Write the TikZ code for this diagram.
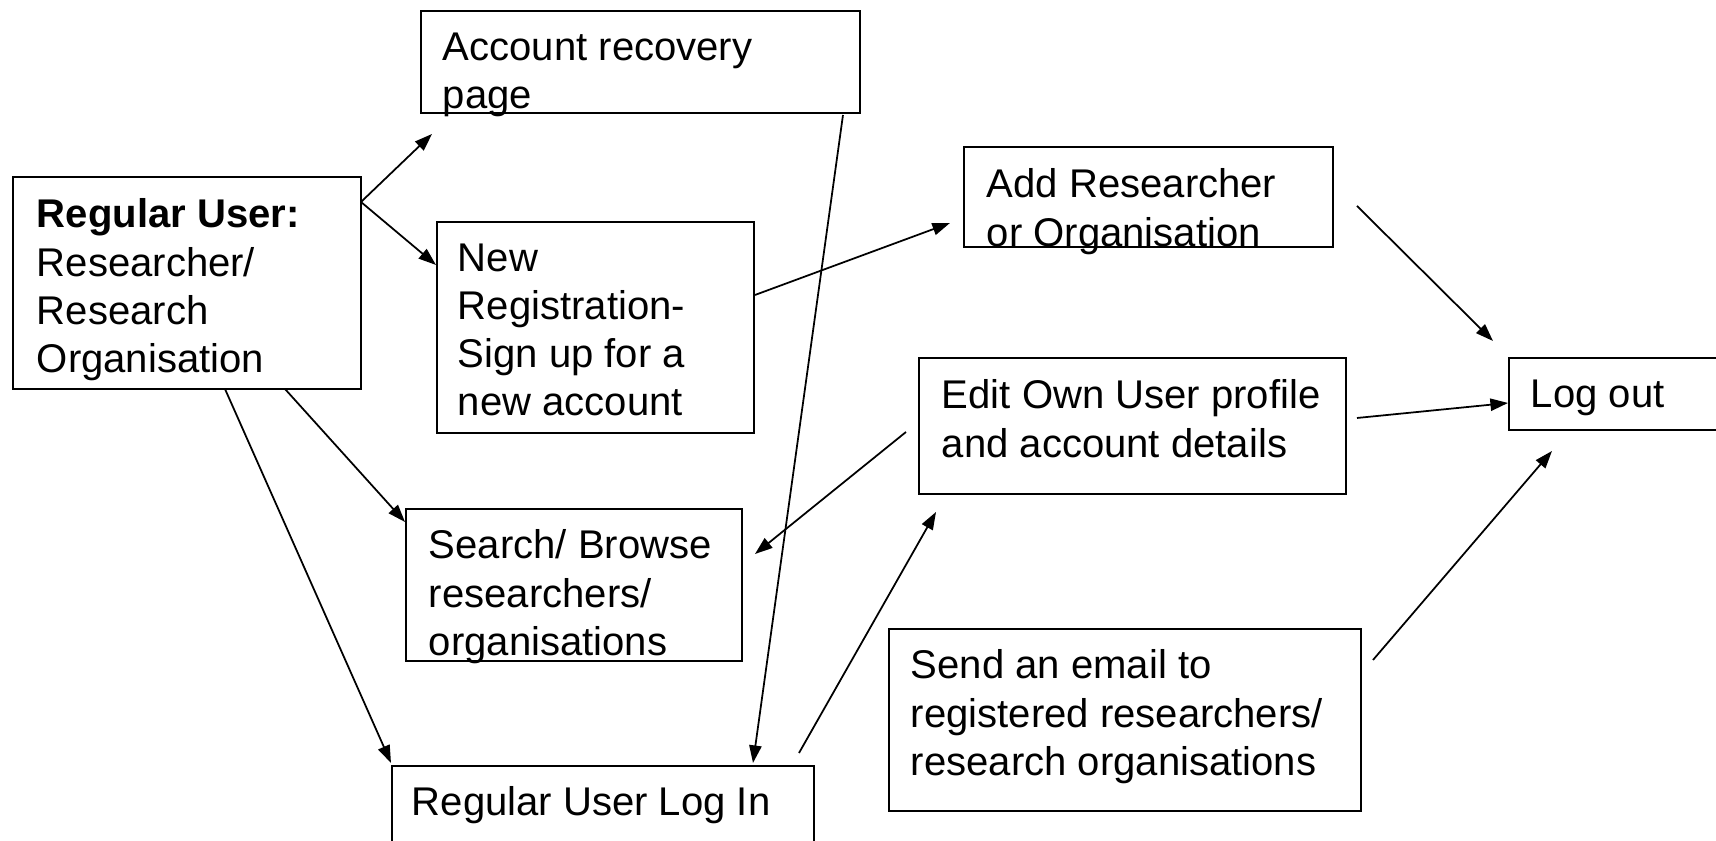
\documentclass[tikz,border=0pt]{standalone}
\usepackage{fontspec}
\setmainfont{Liberation Sans}
\usetikzlibrary{arrows.meta}

\begin{document}
\begin{tikzpicture}[>={Triangle[length=5pt,width=3.5pt]}, line width=0.5pt]
  \tikzstyle{box}=[draw, line width=0.65pt, inner sep=0pt, outer sep=0pt]
  \tikzstyle{txt}=[anchor=north west, align=left, inner sep=0pt,
    font=\fontsize{11.4}{13.7}\selectfont]

  \useasboundingbox (0,0) rectangle (17.16,8.41);

  % Left: the user
  \node[box, minimum width=3.48cm, minimum height=2.12cm] (user) at (1.87, 5.58) {};

  % Middle: pages reached from the user box
  \node[box, minimum width=4.39cm, minimum height=1.02cm] (rec) at (6.405, 7.79) {};
  \node[box, minimum width=3.17cm, minimum height=2.11cm] (reg) at (5.955, 5.135) {};
  \node[box, minimum width=3.36cm, minimum height=1.52cm] (search) at (5.74, 2.56) {};
  \node[box, minimum width=4.22cm, minimum height=1.00cm] (login) at (6.03, 0.25) {};

  % Right: after log in
  \node[box, minimum width=3.69cm, minimum height=1.00cm] (add) at (11.485, 6.44) {};
  \node[box, minimum width=4.27cm, minimum height=1.36cm] (edit) at (11.325, 4.15) {};
  \node[box, minimum width=4.72cm, minimum height=1.82cm] (email) at (11.25, 1.21) {};
  \node[box, minimum width=2.15cm, minimum height=0.72cm] (logout) at (16.165, 4.47) {};

  % Texts, set at the top left of each box
  \node[txt] (user-t) at ([shift={(0.23,-0.21)}]user.north west)
    {\textbf{Regular User:}\\Researcher/\\Research\\Organisation};
  \node[txt] (rec-t) at ([shift={(0.21,-0.21)}]rec.north west) {Account recovery\\page};
  \node[txt] (reg-t) at ([shift={(0.20,-0.21)}]reg.north west)
    {New\\Registration-\\Sign up for a\\new account};
  \node[txt] (search-t) at ([shift={(0.22,-0.20)}]search.north west)
    {Search/ Browse\\researchers/\\organisations};
  \node[txt] (login-t) at ([shift={(0.19,-0.20)}]login.north west) {Regular User Log In};
  \node[txt] (add-t) at ([shift={(0.22,-0.21)}]add.north west) {Add Researcher\\or Organisation};
  \node[txt] (edit-t) at ([shift={(0.22,-0.21)}]edit.north west)
    {Edit Own User profile\\and account details};
  \node[txt] (email-t) at ([shift={(0.21,-0.20)}]email.north west)
    {Send an email to\\registered researchers/\\research organisations};
  \node[txt] (logout-t) at ([shift={(0.21,-0.21)}]logout.north west) {Log out};

  \draw[->] ([yshift=-0.25cm]user.north east) -- ([shift={(0.11,-0.21)}]rec.south west);
  \draw[->] ([yshift=-0.25cm]user.north east) -- ([shift={(-0.01,-0.43)}]reg.north west);
  \draw[->] ([xshift=2.72cm]user.south west) -- ([shift={(-0.01,-0.13)}]search.north west);
  \draw[->] ([xshift=2.12cm]user.south west) -- ([shift={(-0.01,0.03)}]login.north west);

  \draw[->] ([shift={(-0.17,-0.02)}]rec.south east) -- ([shift={(-0.61,0.03)}]login.north east);
  \draw[->] ([shift={(0.01,-0.73)}]reg.north east) -- ([shift={(-0.14,0.24)}]add.south west);
  \draw[->] ([shift={(-0.13,-0.74)}]edit.north west) -- ([shift={(0.13,-0.45)}]search.north east);
  \draw[->] ([shift={(-0.15,0.13)}]login.north east) -- ([shift={(0.17,-0.18)}]edit.south west);

  \draw[->] ([shift={(0.24,-0.59)}]add.north east) -- ([shift={(-0.16,0.17)}]logout.north west);
  \draw[->] ([shift={(0.11,-0.60)}]edit.north east) -- ([shift={(-0.01,-0.45)}]logout.north west);
  \draw[->] ([shift={(0.12,-0.31)}]email.north east) -- ([shift={(0.43,-0.21)}]logout.south west);
\end{tikzpicture}
\end{document}
